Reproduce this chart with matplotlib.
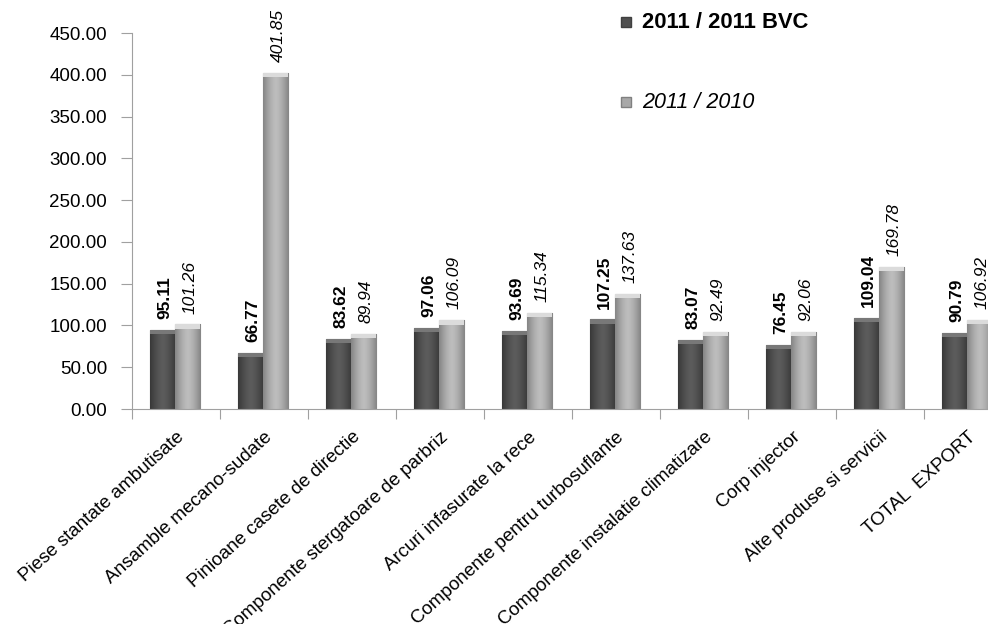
import numpy as np
import matplotlib
matplotlib.use("Agg")
import matplotlib.pyplot as plt
from matplotlib.patches import Rectangle

plt.rcParams['font.family'] = ['Liberation Sans', 'DejaVu Sans']

categories = ["Piese stantate ambutisate", "Ansamble mecano-sudate",
              "Pinioane casete de directie", "Componente stergatoare de parbriz",
              "Arcuri infasurate la rece", "Componente pentru turbosuflante",
              "Componente instalatie climatizare", "Corp injector",
              "Alte produse si servicii", "TOTAL  EXPORT"]
bvc = [95.11, 66.77, 83.62, 97.06, 93.69, 107.25, 83.07, 76.45, 109.04, 90.79]
prev = [101.26, 401.85, 89.94, 106.09, 115.34, 137.63, 92.49, 92.06, 169.78, 106.92]
series_names = ["2011 / 2011 BVC", "2011 / 2010"]


def shade_bars(ax, bars, edge, mid, top):
    # horizontal gradient clipped to each bar, fake 3d look
    row = np.abs(np.linspace(-1, 1, 64))
    vals = mid + (edge - mid) * row ** 1.5
    img = np.tile(vals, (2, 1))
    for b in bars:
        x, y = b.get_x(), b.get_y()
        w, h = b.get_width(), b.get_height()
        im = ax.imshow(img, cmap='gray', vmin=0, vmax=1, aspect='auto',
                       extent=(x, x + w, y, y + h), zorder=2, interpolation='bicubic')
        im.set_clip_path(b)
        # bevel at the top
        cap = Rectangle((x, y + h - 5), w, 5, color=(top,) * 3, zorder=3, lw=0)
        ax.add_patch(cap)


fig = plt.figure(figsize=(9.88, 6.24), dpi=100)
ax = fig.add_axes([132 / 988, 215 / 624, 880 / 988, 376 / 624])

x = np.arange(len(categories))
w = 0.285
b1 = ax.bar(x - 0.158, bvc, w, color='#505050', edgecolor='#303030', lw=0.8, zorder=1)
b2 = ax.bar(x + 0.128, prev, w, color='#a8a8a8', edgecolor='#707070', lw=0.8, zorder=1)
shade_bars(ax, b1, 0.22, 0.36, 0.47)
shade_bars(ax, b2, 0.52, 0.74, 0.86)

for xi, v in zip(x, bvc):
    ax.text(xi - 0.13, v + 13, f"{v:.2f}", rotation=90, ha='center', va='bottom',
            fontsize=12.5, fontweight='bold')
for xi, v in zip(x, prev):
    ax.text(xi + 0.16, v + 13, f"{v:.2f}", rotation=90, ha='center', va='bottom',
            fontsize=12.5, style='italic')

ax.set_xlim(-0.5, 9.5)
ax.set_ylim(0, 450)
ax.set_yticks(np.arange(0, 451, 50))
ax.set_yticklabels([f"{t:.2f}" for t in np.arange(0, 451, 50)], fontsize=13.5)

ax.set_xticks(np.arange(-0.5, 10, 1))
ax.set_xticklabels([])
ax.set_xticks(x, minor=True)
ax.set_xticklabels(categories, minor=True, rotation=42, ha='right', va='top',
                   rotation_mode='anchor', fontsize=13.5)
ax.tick_params(axis='x', which='minor', length=0, pad=14)
ax.tick_params(axis='x', which='major', length=7, color='#a0a0a0')
ax.tick_params(axis='y', length=8, color='#a0a0a0', pad=10)

for s in ['top', 'right']:
    ax.spines[s].set_visible(False)
for s in ['left', 'bottom']:
    ax.spines[s].set_color('#a0a0a0')

# legend drawn by hand, wide spacing like the original
fig.patches.append(Rectangle((621 / 988, 1 - 27 / 624), 10 / 988, 10 / 624,
                             transform=fig.transFigure, facecolor='#505050',
                             edgecolor='#404040'))
fig.patches.append(Rectangle((621 / 988, 1 - 107 / 624), 10 / 988, 10 / 624,
                             transform=fig.transFigure, facecolor='#a8a8a8',
                             edgecolor='#808080'))
fig.text(642 / 988, 1 - 22 / 624, series_names[0], fontsize=15.8, fontweight='bold',
         va='center')
fig.text(642 / 988, 1 - 102 / 624, series_names[1], fontsize=15.5, style='italic',
         va='center')

fig.savefig("out.png", dpi=100)
